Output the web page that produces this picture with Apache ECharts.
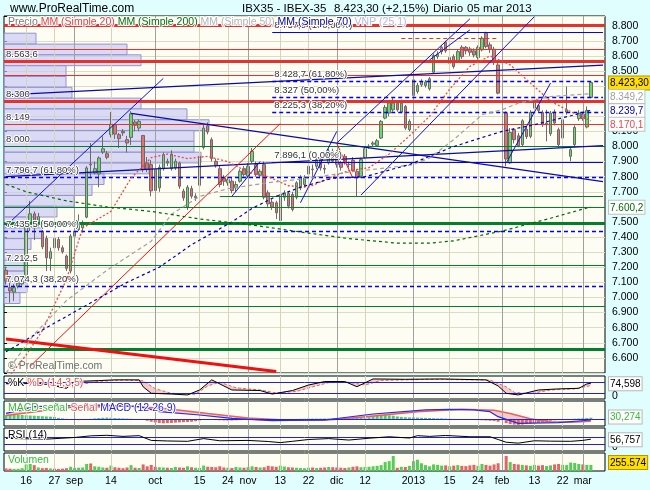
<!DOCTYPE html>
<html><head><meta charset="utf-8">
<script src="https://cdn.jsdelivr.net/npm/echarts@6/dist/echarts.min.js"></script>
<style>html,body{margin:0;padding:0;background:#e0fefe;}#c{width:650px;height:490px;}</style>
</head><body><div id="c"></div>
<script>
// ---------- categories ----------
const holidays = ['2012-12-25','2012-12-26','2013-01-01'];
function tradingDays(a, b) {
  const out = []; const d = new Date(a + 'T12:00:00Z'); const end = new Date(b + 'T12:00:00Z');
  while (d <= end) {
    const wd = d.getUTCDay(); const s = d.toISOString().slice(0, 10);
    if (wd !== 0 && wd !== 6 && holidays.indexOf(s) < 0) out.push(s);
    d.setUTCDate(d.getUTCDate() + 1);
  }
  return out;
}
const dates = tradingDays('2012-08-09', '2013-03-08');
const OFF = 5; // data index 0 = 2012-08-09, index 5 = 2012-08-16

const xTickLabels = {'2012-08-16':'16','2012-08-27':'27','2012-09-03':'sep','2012-09-14':'14','2012-10-01':'oct',
  '2012-10-16':'15','2012-10-25':'24','2012-11-01':'nov','2012-11-13':'13','2012-11-22':'22','2012-12-03':'dic',
  '2012-12-12':'12','2013-01-02':'2013','2013-01-15':'15','2013-01-24':'24','2013-02-01':'feb','2013-02-13':'13',
  '2013-02-22':'22','2013-03-01':'mar'};
const monthStarts = ['2012-09-03','2012-10-01','2012-11-01','2012-12-03','2013-01-02','2013-02-01','2013-03-01'];

// ---------- price data (from 2012-08-09) ----------
const open = [7180,7065,7036,7075,7090,
 7131,7462,7554,7490,7439,7391,7259,7391,7384,7329,
 7274,7175,7406,7450,7462,7532,7882,7825,7818,7963,
 7952,8078,8144,8078,8100,8045,8060,8162,8122,8073,
 7891,7880,7847,7726,7853,7902,7853,7858,7891,7704,
 7598,7721,7660,7743,7994,8137,8045,7902,7853,7792,
 7759,7770,7726,7770,7853,7803,7902,7880,7809,7880,
 7693,7631,7627,7510,7664,7688,7682,7664,7726,7748,
 7818,7850,7869,7924,7855,7891,7968,7957,7891,7935,
 7880,7908,7836,7803,7928,7997,8015,8007,8056,8188,
 8221,8243,8287,8228,8265,8111,8338,8364,8408,8404,
 8382,8492,8595,8628,8690,8551,8595,8567,8657,8657,
 8646,8633,8589,8640,8750,8673,8644,8540,null,8221,
 7891,8111,8071,8012,8114,8067,8254,8270,8225,8150,
 8085,8228,8111,8056,8228,7935,8012,8184,8214,8129,8325];
const close = [7109,7043,7065,7095,7110,
 7479,7554,7462,7535,7336,7263,7303,7329,7329,7303,
 7193,7406,7439,7488,7488,7858,7878,7853,7924,7985,
 7928,8148,8082,8052,8090,8023,8216,8140,8166,7847,
 7847,7706,7708,7862,7946,7891,7950,7902,7737,7660,
 7730,7671,7671,7935,8122,8096,7920,7875,7748,7770,
 7781,7708,7748,7836,7814,7869,7968,7814,7836,7664,
 7620,7598,7561,7682,7693,7605,7583,7759,7796,7792,
 7869,7847,7913,7858,7850,7968,7902,7880,7862,7891,
 7882,7840,7792,7913,7985,8001,8023,8038,8166,8259,
 8287,8287,8243,8287,8122,8166,8441,8404,8430,8426,
 8448,8602,8611,8657,8633,8589,8529,8628,8595,8633,
 8624,8606,8657,8717,8662,8644,8562,8353,null,7917,
 8093,8045,8005,8170,8065,8225,8292,8239,8144,8155,
 8221,8155,8012,8177,8243,7979,8126,8221,8184,8239,8423.3];
const low = [7085,6966,6977,7060,7078,
 7120,7440,7380,7470,7320,7175,7175,7300,7310,7290,
 7175,7160,7395,7440,7430,7525,7790,7815,7730,7950,
 7915,8060,8050,7990,8070,7960,8010,8100,8100,7830,
 7830,7670,7680,7700,7840,7870,7840,7845,7720,7640,
 7580,7655,7640,7730,7980,8080,7900,7860,7730,7740,
 7740,7690,7700,7760,7800,7790,7890,7800,7790,7650,
 7600,7580,7520,7500,7640,7590,7570,7650,7710,7730,
 7800,7800,7850,7840,7820,7880,7890,7860,7840,7880,
 7860,7830,7671,7790,7920,7985,8000,8000,8050,8180,
 8200,8230,8230,8220,8110,8100,8330,8350,8395,8390,
 8370,8480,8580,8610,8620,8530,8515,8555,8580,8610,
 8600,8590,8575,8630,8650,8620,8540,8345,null,7869,
 7885,8020,7995,8000,8050,8055,8240,8225,8130,8034,
 8070,8140,7990,8040,8210,7902,8000,8170,8170,8120,8320];
const high = [7205,7109,7090,7112,7125,
 7500,7640,7570,7560,7505,7410,7330,7410,7400,7345,
 7285,7420,7470,7550,7510,7870,8023,7900,7935,8067,
 7970,8228,8150,8090,8115,8070,8233,8175,8180,8075,
 7930,7910,7870,7880,7960,7920,7975,7920,7900,7720,
 7745,7740,7690,7950,8150,8160,8060,7920,7870,7810,
 7800,7790,7770,7850,7870,7890,7990,7900,7850,7900,
 7710,7650,7640,7700,7710,7700,7700,7770,7810,7810,
 7885,7880,7930,7940,7880,7985,7985,7975,7905,7950,
 7900,7930,7850,7925,7995,8015,8035,8050,8175,8275,
 8300,8320,8300,8310,8275,8180,8455,8420,8445,8440,
 8460,8615,8630,8670,8700,8600,8610,8640,8670,8665,
 8660,8650,8670,8730,8760,8690,8660,8562,null,8232,
 8122,8122,8090,8180,8130,8240,8349,8280,8240,8243,
 8235,8245,8125,8190,8397,7995,8140,8240,8230,8265,8430];
// volume in thousands
const volume = [110,100,90,95,120,
 280,300,250,150,120,130,110,100,90,100,
 120,180,130,140,150,300,320,200,180,150,
 140,230,160,140,120,150,250,140,130,280,
 200,260,180,160,150,140,130,170,150,140,
 200,160,140,130,230,180,170,160,200,150,
 140,130,170,150,140,160,200,170,150,160,
 220,200,180,230,190,160,150,140,130,120,
 140,150,130,140,150,170,160,150,140,130,
 150,180,200,160,170,180,200,220,250,380,
 420,640,140,180,170,220,420,480,330,250,
 200,280,260,230,240,200,230,250,220,210,
 240,260,220,300,260,230,280,330,null,640,
 380,300,280,260,240,220,260,230,250,210,
 240,280,300,260,250,360,340,300,280,260,255.574];

// ---------- moving averages: [day index from 2012-08-16, value] ----------
const ma20Pts = [[-5,6450],[0,6620],[4,6780],[10,7120],[14,7460],[21,7570],[26,7790],[31,7926],[35,7950],[40,7920],[45,7935],[50,7900],[55,7830],[60,7800],[65,7740],[70,7730],[75,7790],[80,7840],[85,7860],[90,7950],[95,8070],[100,8200],[105,8380],[110,8530],[115,8600],[120,8540],[125,8420],[130,8300],[135,8230],[140,8170.1]];
const ma50Pts = [[-5,6500],[2,6757],[10,6980],[20,7180],[31,7373],[36,7550],[43,7670],[50,7720],[60,7760],[70,7790],[80,7830],[90,7860],[96,7880],[100,7924],[106,8045],[113,8210],[118,8243],[122,8287],[130,8331],[140,8349.2]];
const ma70Pts = [[-5,6640],[5,6800],[15,6950],[25,7100],[33,7200],[41,7350],[51,7500],[56,7590],[62,7670],[68,7730],[76,7790],[84,7800],[95,7880],[105,7990],[110,8034],[118,8100],[126,8144],[136,8210],[140,8239.7]];
const ma200Pts = [[-5,7750],[0,7700],[10,7640],[20,7600],[31,7570],[43,7520],[56,7480],[69,7430],[80,7390],[92,7360],[100,7360],[106,7375],[118,7440],[130,7525],[140,7600.2]];

// ---------- indicators ----------
const stochK = [[-5,74],[-1,71],[2,78],[6,65],[10,47],[12,84],[18,89],[22,93],[28,93],[29,55],[31,20],[36,16],[40,11],[43,38],[46,93],[51,38],[58,35],[61,16],[66,35],[70,65],[74,84],[79,84],[82,56],[86,98],[94,96],[103,98],[114,93],[117,60],[119,20],[122,11],[127,38],[132,44],[137,47],[139,71],[140,74.598]];
const stochD = [[-5,70],[0,75],[6,72],[10,55],[14,70],[18,85],[24,92],[29,88],[32,45],[36,20],[42,15],[45,60],[48,80],[52,50],[58,38],[62,22],[67,30],[71,55],[75,78],[80,80],[84,65],[88,90],[100,96],[115,92],[119,55],[121,25],[125,18],[130,38],[136,44],[140,62]];
const macdLine = [[-5,63],[2,133],[18,150],[28,133],[33,80],[43,45],[51,10],[61,-14],[74,-7],[86,56],[99,98],[105,105],[111,98],[115,80],[117,28],[122,-42],[132,-35],[140,-7]];
const macdSignal = [[-5,40],[10,120],[25,140],[35,110],[45,60],[55,15],[65,-10],[74,-10],[85,30],[97,80],[108,105],[116,95],[120,60],[125,5],[130,-25],[135,-30],[140,-20]];
const macdHist = [45,48,50,48,45,
 42,40,38,35,33,30,28,25, 15,10,5,3, -5,-8,-3,2,5,
 10,14,16,18,16,14,12,10,8,6,4, 2,-5,-15,
 -25,-32,-38,-42,-40,-38,-35,-32,-30,-28,-25,-20,-12,-5,
 -3,-5,-8,-10,-12,-14,-12,-10, -8,-6,-5,-6,-8,-10,-12,-10,-8,-6,
 -4,-2,0,2,4,5,6,7,8,8, 8,9,10,10,9,8,8,10,12,14,16,18,22,
 30,38,42,45,42,38,30, 25,22,20,20,18,16,15,14,12,10,10,8,6,4,
 2,0,-2,-4,-6,-8,-10,-12, -15,-18,-25, null,
 -40,-50,-55,-58,-55,-50,-45,-40,-35,-28,-22, -15,-10,-6,-3,-1,2, 6,9,12,14,17];
const rsiPts = [[-5,61],[5,57],[12,66],[16,75],[20,78],[24,72],[28,76],[31,50],[35,47],[40,45],[44,60],[48,48],[55,50],[60,44],[63,38],[66,45],[70,55],[75,60],[80,52],[85,62],[90,70],[95,63],[97,76],[100,72],[104,77],[110,70],[115,70],[117,55],[119,40],[122,35],[126,48],[130,46],[135,45],[138,50],[140,56.757]];
const lastStoch = 74.598, lastMacdLabel = 30.274, lastRsi = 56.757, lastVolume = 255.574;

// ---------- drawn levels / trend lines ----------
const redThickLevels = [8800, 8563.6, 8300];
const redThinLevels = [8646, 8474, 8149];
const greenThinLevels = [8000, 7600, 7212.5, 6942];
const greenThickLevels = [7494, 6660];
const labeledLevels = [8563.6, 8300, 8149, 8000, 7212.5];
const leftFibLevels = [7796.7, 7435.5, 7074.3];
const leftFibPct = ['61,80%', '50,00%', '38,20%'];
const rightFibLevels = [8757.9, 8428.7, 8327, 8225.3, 7896.1];
const rightFibPct = ['100,00%', '61,80%', '50,00%', '38,20%', '0,00%'];
const rightFibStart = 61;
const greenPartial = [[48, 7668]];
const redDashedPartial = [[93, 8717, 117]];
const blueThinTrends = [[-5,7475,34,8451],[77,8023,110,8845],[83,7678,126,8860],[119,7890,130,8420],[51,7670,58,7901],[68,7627,77,8100],[100,8573,110,8772]];
const navyTrends = [[-5,8342,143,8539],[26,8219,143,7767],[-5,7800,143,8005]];
const redThinTrends = [[1,6545,63,8152],[77,8020,81,7790]];
const redThickTrends = [[-5,6725,62,6510]];
// volume-at-price profile (25 rows), bin edges top->bottom and relative volume
const vpEdges = [8750,8678,8607,8535,8464,8392,8320,8249,8177,8106,8034,7962,7891,7819,7748,7676,7604,7533,7461,7390,7318,7246,7175,7103,7032,6960];
const vpVolume = [32,123,137,62,62,68,137,183,205,190,190,197,145,100,88,70,53,32,38,27,22,20,23,23,16];

// ---------- helpers ----------
const FONT = "'Liberation Sans',Arial,sans-serif";
function fmt(v, d) {
  let s = (d === undefined) ? String(Math.round(v * 10) / 10) : v.toFixed(d);
  let parts = s.split('.');
  let a = parts[0].replace(/\B(?=(\d{3})+(?!\d))/g, '.');
  return parts[1] ? a + ',' + parts[1] : a;
}
const N = dates.length;
function sparse(pts) { const arr = new Array(N).fill(null); pts.forEach(p => { arr[p[0] + OFF] = p[1]; }); return arr; }
function pad(arr) { const out = arr.slice(); while (out.length < N) out.push(null); return out; }
const cat = i => dates[i + OFF];
const LBL = {color:'#333', fontSize:9.5, fontFamily:FONT, textBorderColor:'#fff', textBorderWidth:2};
const BLUE = '#0000ff';

// ---------- grids / axes ----------
const gridDefs = [[16,357],[376,23],[401,25],[428,23],[453,18]];
const grid = gridDefs.map(g => ({left:4, top:g[0], width:601, height:g[1], show:true, borderColor:'#000', borderWidth:1, backgroundColor:'#fdfdf3'}));
const xAxis = gridDefs.map((g, k) => ({type:'category', gridIndex:k, data:dates, boundaryGap:true,
  axisLine:{show:false}, axisTick:{show:false}, splitLine:{show:false},
  axisLabel: k === 4 ? {show:true, interval:(idx, val) => !!xTickLabels[val], formatter: val => xTickLabels[val] || '',
    fontSize:10.5, fontFamily:FONT, color:'#000', margin:5} : {show:false}}));
xAxis.push({type:'value', gridIndex:0, min:0, max:601, show:false});
const yRanges = [null, [-11,114], [-70,192], [-8,118], [0,767]];
const yAxis = [{type:'value', gridIndex:0, position:'right', min:6500, max:8864, interval:100, scale:true,
  axisLine:{show:false}, axisTick:{show:true, length:3, lineStyle:{color:'#000'}},
  axisLabel:{fontSize:10.5, fontFamily:FONT, color:'#000', margin:7,
    formatter: v => { const r = Math.round(v); return (r % 100 === 0 && r >= 6600 && r <= 8800) ? fmt(r) : ''; }},
  splitLine:{show:true, lineStyle:{color:'#dcdcc6', width:1}}}];
for (let k = 1; k < 5; k++) yAxis.push({type:'value', gridIndex:k, position:'right', min:yRanges[k][0], max:yRanges[k][1], show:false, splitLine:{show:false}});

// ---------- series ----------
const series = [];
for (let g = 0; g < 5; g++) {
  series.push({type:'line', xAxisIndex:g, yAxisIndex:g, data:dates.map(() => null), z:1, silent:true, symbol:'none',
    markLine:{silent:true, symbol:['none','none'], animation:false, label:{show:false},
      data:Object.keys(xTickLabels).map(d => ({xAxis:d, lineStyle:{color: monthStarts.indexOf(d) >= 0 ? '#a0a0a0' : '#d4d4bd', width:1, type:'solid'}}))}});
}
series.push({type:'custom', xAxisIndex:5, yAxisIndex:0, z:2, silent:true,
  data: vpVolume.map((w, r) => [w, vpEdges[r], vpEdges[r + 1]]),
  encode:{x:0, y:1},
  renderItem: (params, api) => {
    const p1 = api.coord([0, api.value(1)]); const p2 = api.coord([api.value(0), api.value(2)]);
    return {type:'rect', shape:{x:p1[0], y:p1[1], width:p2[0] - p1[0], height:p2[1] - p1[1]},
      style:{fill:'rgba(200,200,245,0.65)', stroke:'#9494cc', lineWidth:1}};
  }});
const levelData = [];
function lvl(v, color, width, type, text) {
  levelData.push({yAxis:v, lineStyle:{color:color, width:width, type:type},
    label: text ? Object.assign({show:true, position:'insideStartTop', distance:[2,2], formatter:text}, LBL) : {show:false}});
}
redThickLevels.forEach(v => lvl(v, '#e8302c', 3, 'solid', labeledLevels.indexOf(v) >= 0 ? fmt(v) : null));
redThinLevels.forEach(v => lvl(v, '#e8302c', 1, 'solid', labeledLevels.indexOf(v) >= 0 ? fmt(v) : null));
greenThinLevels.forEach(v => lvl(v, '#00802a', 1, 'solid', labeledLevels.indexOf(v) >= 0 ? fmt(v) : null));
greenThickLevels.forEach(v => lvl(v, '#00802a', 3, 'solid', null));
leftFibLevels.forEach((v, k) => lvl(v, BLUE, 1.3, [4,3], fmt(v) + ' (' + leftFibPct[k] + ')'));
rightFibLevels.forEach((v, k) => {
  const dashed = (k > 0 && k < rightFibLevels.length - 1);
  levelData.push([{coord:[cat(rightFibStart), v], lineStyle:{color:BLUE, width: dashed ? 1.3 : 1, type: dashed ? [4,3] : 'solid'},
    label:Object.assign({show:true, position:'insideStartTop', distance:[2,2], formatter: fmt(v) + ' (' + rightFibPct[k] + ')'}, LBL)},
    {coord:[cat(143), v]}]);
});
greenPartial.forEach(p => levelData.push([{coord:[cat(p[0]), p[1]], lineStyle:{color:'#00802a', width:1, type:'solid'}, label:{show:false}}, {coord:[cat(143), p[1]]}]));
redDashedPartial.forEach(p => levelData.push([{coord:[cat(p[0]), p[1]], lineStyle:{color:'#e8302c', width:1.2, type:[4,3]}, label:{show:false}}, {coord:[cat(p[2]), p[1]]}]));
function trend(arr, color, width) {
  arr.forEach(t => levelData.push([{coord:[cat(t[0]), t[1]], lineStyle:{color:color, width:width, type:'solid'}, label:{show:false}}, {coord:[cat(t[2]), t[3]]}]));
}
trend(blueThinTrends, '#1010d0', 1);
trend(navyTrends, '#0a0aa8', 1.2);
trend(redThinTrends, '#f01010', 1);
trend(redThickTrends, '#f01010', 3);
series.push({type:'line', xAxisIndex:0, yAxisIndex:0, data:dates.map(() => null), z:4, silent:true, symbol:'none',
  markLine:{silent:true, symbol:['none','none'], animation:false, data:levelData}});
const candleData = dates.map((d, k) => (k < open.length && open[k] != null) ? [open[k], close[k], low[k], high[k]] : ['-','-','-','-']);
const lastK = close.length - 1;
series.push({type:'candlestick', xAxisIndex:0, yAxisIndex:0, z:3, barWidth:3, data:candleData,
  itemStyle:{color:'#66dd66', color0:'#e87070', borderColor:'#6a6a6a', borderColor0:'#6a6a6a', borderWidth:1}});
function ma(pts, color, dash, w) {
  return {type:'line', xAxisIndex:0, yAxisIndex:0, z:5, data:sparse(pts), connectNulls:true, symbol:'none', silent:true,
    lineStyle:{color:color, width:w || 1, type:dash}};
}
series.push(ma(ma20Pts, '#e84848', [2,2], 1.3));
series.push(ma(ma50Pts, '#a0a0a0', [4,3], 1.2));
series.push(ma(ma70Pts, '#0000b0', [3,3], 1.2));
series.push(ma(ma200Pts, '#006a00', [3,3], 1.2));
function band(g, A, B, fill) {
  return {type:'custom', xAxisIndex:g, yAxisIndex:g, z:3, silent:true, data:[[0, 0]],
    renderItem: (params, api) => {
      const pts = A.map(p => api.coord([p[0] + OFF, p[1]])).concat(B.slice().reverse().map(p => api.coord([p[0] + OFF, p[1]])));
      return {type:'polygon', shape:{points:pts}, style:{fill:fill}};
    }};
}
series.push(band(1, stochK, stochD, 'rgba(240,160,160,0.55)'));
series.push({type:'line', xAxisIndex:1, yAxisIndex:1, z:4, data:sparse(stochD), connectNulls:true, symbol:'none', silent:true,
  lineStyle:{color:'#e86060', width:1, type:[3,2]},
  markLine:{silent:true, symbol:['none','none'], animation:false, label:{show:false}, lineStyle:{color:'#2020e0', width:1, type:'solid'}, data:[{yAxis:80},{yAxis:20}]}});
series.push({type:'line', xAxisIndex:1, yAxisIndex:1, z:5, data:sparse(stochK), connectNulls:true, symbol:'none', silent:true,
  lineStyle:{color:'#000', width:1}});
series.push({type:'bar', xAxisIndex:2, yAxisIndex:2, z:3, barWidth:3, silent:true,
  data:pad(macdHist).map(v => v == null ? null : {value:v, itemStyle:{color: v >= 0 ? '#55cc55' : '#e06666'}}),
  markLine:{silent:true, symbol:['none','none'], animation:false, label:{show:false}, lineStyle:{color:'#2020e0', width:1, type:'solid'}, data:[{yAxis:0}]}});
series.push(band(2, macdLine, macdSignal, 'rgba(240,160,160,0.55)'));
series.push({type:'line', xAxisIndex:2, yAxisIndex:2, z:4, data:sparse(macdSignal), connectNulls:true, symbol:'none', silent:true,
  lineStyle:{color:'#e86060', width:1.5}});
series.push({type:'line', xAxisIndex:2, yAxisIndex:2, z:5, data:sparse(macdLine), connectNulls:true, symbol:'none', silent:true,
  lineStyle:{color:'#2a2ae0', width:1.2}});
series.push({type:'line', xAxisIndex:3, yAxisIndex:3, z:5, data:sparse(rsiPts), connectNulls:true, symbol:'none', silent:true,
  lineStyle:{color:'#000', width:1}});
series.push({type:'line', xAxisIndex:3, yAxisIndex:3, z:4, data:dates.map(() => null), symbol:'none', silent:true,
  markLine:{silent:true, symbol:['none','none'], animation:false, label:{show:false}, lineStyle:{color:'#2020e0', width:1, type:'solid'}, data:[{yAxis:70},{yAxis:30}]}});
series.push({type:'bar', xAxisIndex:4, yAxisIndex:4, z:3, barWidth:3, silent:true,
  data:pad(volume).map((v, k) => v == null ? null : {value:v, itemStyle:{color: (close[k] >= open[k]) ? '#55cc55' : '#e06666'}})});

// ---------- texts ----------
const halo = {stroke:'#fff', lineWidth:2};
function txt(x, y, text, fill, size, extra) {
  return Object.assign({type:'text', left:x, top:y, z:100, silent:true,
    style:Object.assign({text:text, fill:fill, fontSize:size, fontFamily:FONT}, extra || {})});
}
const pctChange = '+2,15%';
const graphic = [
  txt(10, 3, 'www.ProRealTime.com', '#000', 12),
  txt(242, 3, 'IBX35 - IBEX-35', '#000', 11.5),
  txt(334, 3, fmt(close[lastK], 2) + ' (' + pctChange + ')', '#000', 11.5),
  txt(433, 3, 'Diario', '#000', 11.5),
  txt(467, 3, '05 mar 2013', '#000', 11.5),
  {type:'text', left:7, top:16, z:100, silent:true, style:{
    text:'{p|Precio} {a|MM (Simple 20)} {b|MM (Simple 200)} {c|MM (Simple 50)} {d|MM (Simple 70)} {e|VNP (25,1)}',
    fontSize:10.5, fontFamily:FONT, fill:'#777', stroke:'#fff', lineWidth:2,
    rich:{p:{fill:'#7a7a7a', fontSize:10.5, fontFamily:FONT}, a:{fill:'#e84040', fontSize:10.5, fontFamily:FONT},
      b:{fill:'#007000', fontSize:10.5, fontFamily:FONT}, c:{fill:'#b4b4b4', fontSize:10.5, fontFamily:FONT},
      d:{fill:'#00008c', fontSize:10.5, fontFamily:FONT}, e:{fill:'#b4b4ee', fontSize:10.5, fontFamily:FONT}}}},
  txt(8, 361, '\u00a9 ProRealTime.com', '#707070', 10.5),
  {type:'text', left:7, top:377, z:100, silent:true, style:{text:'{k|%K} {d|%D (14,3,5)}', fontSize:10.5, fontFamily:FONT, fill:'#000', stroke:'#fff', lineWidth:2,
    rich:{k:{fill:'#000', fontSize:10.5, fontFamily:FONT}, d:{fill:'#e85050', fontSize:10.5, fontFamily:FONT}}}},
  {type:'text', left:7, top:402, z:100, silent:true, style:{text:'{a|MACD-señal} {b|Señal} {c|MACD (12 26 9)}', fontSize:10.5, fontFamily:FONT, fill:'#000', stroke:'#fff', lineWidth:2,
    rich:{a:{fill:'#33bb33', fontSize:10.5, fontFamily:FONT}, b:{fill:'#e85050', fontSize:10.5, fontFamily:FONT}, c:{fill:'#2222dd', fontSize:10.5, fontFamily:FONT}}}},
  txt(7, 429, 'RSI (14)', '#000', 10.5, halo),
  txt(7, 454, 'Volumen', '#33bb33', 10.5, halo),
  txt(612, 391, '0', '#000', 10.5),
  txt(612, 442, '0', '#000', 10.5)
];

const chart = echarts.init(document.getElementById('c'), null, {renderer:'canvas'});
chart.setOption({animation:false, backgroundColor:'#e0fefe', grid:grid, xAxis:xAxis, yAxis:yAxis, series:series});

// value boxes on the right, placed through the axes' own scales
function boxes(axisIdx, items, maxY) {
  const placed = items.map(it => Object.assign({y: chart.convertToPixel({yAxisIndex: axisIdx}, it.v)}, it)).sort((a, b) => a.y - b.y);
  for (let k = 1; k < placed.length; k++) if (placed[k].y - placed[k - 1].y < 13.5) placed[k].y = placed[k - 1].y + 13.5;
  return placed.map(p => {
    let top = p.y - 7;
    if (maxY !== undefined) top = Math.min(top, maxY - 14);
    return {type:'text', left:608, top:top, z:120, silent:true,
      style:{text:p.text, fill:p.color, fontSize:10, fontFamily:FONT, backgroundColor:p.bg, borderColor:p.border, borderWidth:1, padding:[2,1,1,1]}};
  });
}
const mainBoxes = boxes(0, [
  {v: close[lastK], text: fmt(close[lastK], 2), color:'#000', bg:'#ffde00', border:'#b49600'},
  {v: ma50Pts[ma50Pts.length - 1][1], text: fmt(ma50Pts[ma50Pts.length - 1][1]), color:'#a0a0a0', bg:'#fff', border:'#c0c0c0'},
  {v: ma70Pts[ma70Pts.length - 1][1], text: fmt(ma70Pts[ma70Pts.length - 1][1]), color:'#0000b0', bg:'#fff', border:'#c0c0c0'},
  {v: ma20Pts[ma20Pts.length - 1][1], text: fmt(ma20Pts[ma20Pts.length - 1][1]), color:'#e84848', bg:'#fff', border:'#c0c0c0'},
  {v: ma200Pts[ma200Pts.length - 1][1], text: fmt(ma200Pts[ma200Pts.length - 1][1]), color:'#006a00', bg:'#fff', border:'#c0c0c0'}
]);
const indBoxes = [].concat(
  boxes(1, [{v:lastStoch, text:fmt(lastStoch, 3), color:'#000', bg:'#fff', border:'#b8b8b8'}]),
  boxes(2, [{v:lastMacdLabel, text:fmt(lastMacdLabel, 3), color:'#33bb33', bg:'#fff', border:'#b8b8b8'}]),
  boxes(3, [{v:lastRsi, text:fmt(lastRsi, 3), color:'#000', bg:'#fff', border:'#b8b8b8'}]),
  boxes(4, [{v:lastVolume, text:fmt(lastVolume * 1000, 0), color:'#000', bg:'#ffde00', border:'#b49600'}], 469)
);
chart.setOption({graphic: graphic.concat(mainBoxes, indBoxes)});
</script></body></html>
